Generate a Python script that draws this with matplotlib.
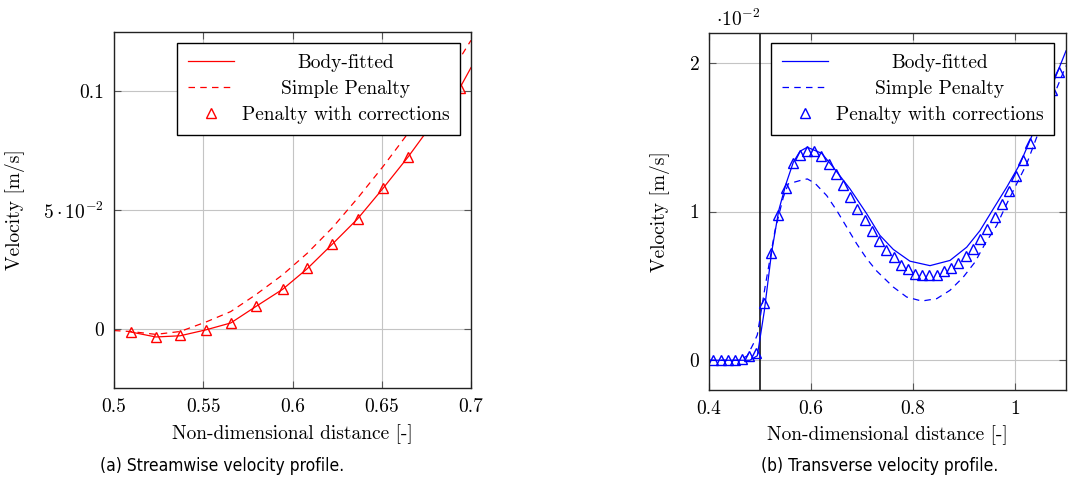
import numpy as np
import matplotlib
matplotlib.use('Agg')
import matplotlib.pyplot as plt

plt.rcParams['font.family'] = 'serif'
plt.rcParams['font.serif'] = ['cmr10', 'DejaVu Serif']
plt.rcParams['mathtext.fontset'] = 'cm'
plt.rcParams['axes.formatter.use_mathtext'] = True

# ---- (a) streamwise velocity, values in m/s
a_fit_x = [0.5094, 0.5234, 0.5370, 0.5515, 0.5654, 0.5796, 0.5945, 0.6083,
           0.6223, 0.6365, 0.6509, 0.6649, 0.6790, 0.6938, 0.7000]
a_fit_y = [-0.0014, -0.0035, -0.0030, -0.0005, 0.0024, 0.0094, 0.0166, 0.0253,
           0.0356, 0.0463, 0.0593, 0.0725, 0.0870, 0.1015, 0.1100]

a_pen_x = [0.5000, 0.5094, 0.5234, 0.5370, 0.5515, 0.5654, 0.5796, 0.5945,
           0.6083, 0.6223, 0.6365, 0.6509, 0.6649, 0.6790, 0.6938, 0.7000]
a_pen_y = [-0.0008, -0.0012, -0.0024, -0.0012, 0.0028, 0.0072, 0.0144, 0.0227,
           0.0318, 0.0425, 0.0550, 0.0685, 0.0825, 0.0975, 0.1140, 0.1215]

a_cor_x = [0.5094, 0.5234, 0.5370, 0.5515, 0.5654, 0.5796, 0.5945, 0.6083,
           0.6223, 0.6365, 0.6509, 0.6649, 0.6790, 0.6938]
a_cor_y = [-0.0014, -0.0035, -0.0028, -0.0004, 0.0024, 0.0095, 0.0167, 0.0254,
           0.0356, 0.0463, 0.0593, 0.0725, 0.0870, 0.1015]

# ---- (b) transverse velocity, values in 1e-2 m/s (as read on the axis)
b_fit_x = [0.400, 0.480, 0.4947, 0.5084, 0.5225, 0.5367, 0.551, 0.5653, 0.5784,
           0.5927, 0.621, 0.6437, 0.6765, 0.7092, 0.735, 0.7614, 0.794,
           0.8333, 0.8725, 0.9053, 0.9314, 0.9575, 0.9837, 1.0098, 1.0327, 1.100]
b_fit_y = [0.0, 0.0, 0.03, 0.33, 0.72, 1.007, 1.186, 1.331, 1.405,
           1.432, 1.391, 1.297, 1.152, 0.985, 0.840, 0.745, 0.666,
           0.636, 0.671, 0.760, 0.872, 1.018, 1.163, 1.320, 1.505, 2.080]

b_pen_x = [0.400, 0.460, 0.475, 0.4869, 0.4947, 0.5014, 0.5098, 0.5294, 0.5457,
           0.5555, 0.5784, 0.5927, 0.6078, 0.6308, 0.6504, 0.670, 0.6896, 0.7092,
           0.7288, 0.7614, 0.7876, 0.8171, 0.8465, 0.8725, 0.8986, 0.9216, 0.9412,
           0.9641, 0.9837, 1.0033, 1.0229, 1.0425, 1.100]
b_pen_y = [0.0, 0.0, 0.03, 0.11, 0.17, 0.31, 0.49, 0.872, 1.096,
           1.186, 1.208, 1.219, 1.190, 1.107, 1.007, 0.895, 0.783, 0.683,
           0.600, 0.492, 0.425, 0.398, 0.414, 0.470, 0.559, 0.660, 0.783,
           0.906, 1.051, 1.186, 1.320, 1.499, 1.980]

b_cor_x = [0.408, 0.423, 0.437, 0.451, 0.465, 0.479, 0.493, 0.507, 0.522, 0.536,
           0.550, 0.564, 0.578, 0.592, 0.606, 0.620, 0.635, 0.649, 0.663, 0.677,
           0.691, 0.705, 0.719, 0.734, 0.748, 0.762, 0.776, 0.790, 0.804, 0.818,
           0.832, 0.847, 0.861, 0.875, 0.889, 0.903, 0.917, 0.931, 0.945, 0.960,
           0.974, 0.988, 1.002, 1.016, 1.030, 1.044, 1.059, 1.073, 1.087]
b_cor_y = [0.0, 0.0, 0.0, 0.0, 0.01, 0.03, 0.05, 0.385, 0.72, 0.975,
           1.155, 1.327, 1.378, 1.405, 1.405, 1.37, 1.32, 1.25, 1.176, 1.098,
           1.018, 0.944, 0.872, 0.805, 0.743, 0.693, 0.642, 0.612, 0.582, 0.575,
           0.575, 0.575, 0.597, 0.62, 0.653, 0.70, 0.749, 0.817, 0.884, 0.966,
           1.051, 1.141, 1.242, 1.347, 1.458, 1.57, 1.69, 1.815, 1.94]

labels = ['Body-fitted', 'Simple Penalty', 'Penalty with corrections']

a_xticks = [0.5, 0.55, 0.6, 0.65, 0.7]
a_xticklabels = ['0.5', '0.55', '0.6', '0.65', '0.7']
a_yticks = [0, 0.05, 0.1]
a_yticklabels = ['0', r'$5\cdot10^{-2}$', '0.1']
b_xticks = [0.4, 0.6, 0.8, 1.0]
b_xticklabels = ['0.4', '0.6', '0.8', '1']
b_yticks = [0, 1, 2]
b_yticklabels = ['0', '1', '2']

fs = 14
dash = (0, (5.2, 4.2))

fig = plt.figure(figsize=(10.68, 4.82), dpi=100)
ax1 = fig.add_axes([114 / 1068, 1 - 388 / 482, 357 / 1068, 356 / 482])
ax2 = fig.add_axes([709 / 1068, 1 - 390 / 482, 357 / 1068, 357 / 482])


def style_axes(ax, xt, xtl, yt, ytl):
    ax.set_xticks(xt)
    ax.set_xticklabels(xtl)
    ax.set_yticks(yt)
    ax.set_yticklabels(ytl)
    ax.set_axisbelow(True)
    ax.grid(True, color='#c4c4c4', linewidth=0.8)
    ax.tick_params(direction='in', length=5, width=0.8, color='#555555',
                   top=True, right=True, labelsize=fs, pad=7)
    for s in ax.spines.values():
        s.set_linewidth(1.0)
        s.set_color('#222222')


# left panel
ax1.plot(a_fit_x, a_fit_y, color='#ff0000', lw=0.9, label=labels[0])
ax1.plot(a_pen_x, a_pen_y, color='#ff0000', lw=0.9, linestyle=dash, label=labels[1])
ax1.plot(a_cor_x, a_cor_y, linestyle='none', marker='^', ms=7, mfc='none',
         mec='#ff0000', mew=1.0, label=labels[2])
ax1.set_xlim(0.5, 0.7)
ax1.set_ylim(-0.025, 0.125)
style_axes(ax1, a_xticks, a_xticklabels, a_yticks, a_yticklabels)
ax1.set_xlabel('Non-dimensional distance [-]', fontsize=fs)
ax1.set_ylabel('Velocity [m/s]', fontsize=fs)
ax1.xaxis.set_label_coords(0.5, -0.103)
ax1.yaxis.set_label_coords(-0.25, 0.5)

# right panel
ax2.axvline(0.5, color='k', lw=1.1)
ax2.plot(b_fit_x, b_fit_y, color='#0000ff', lw=0.9, label=labels[0])
ax2.plot(b_pen_x, b_pen_y, color='#0000ff', lw=0.9, linestyle=dash, label=labels[1])
ax2.plot(b_cor_x, b_cor_y, linestyle='none', marker='^', ms=7, mfc='none',
         mec='#0000ff', mew=1.0, label=labels[2])
ax2.set_xlim(0.4, 1.1)
ax2.set_ylim(-0.2, 2.2)
style_axes(ax2, b_xticks, b_xticklabels, b_yticks, b_yticklabels)
ax2.set_xlabel('Non-dimensional distance [-]', fontsize=fs)
ax2.set_ylabel('Velocity [m/s]', fontsize=fs)
ax2.xaxis.set_label_coords(0.5, -0.098)
ax2.yaxis.set_label_coords(-0.11, 0.5)
ax2.text(0.02, 1.008, r'$\cdot10^{-2}$', transform=ax2.transAxes, fontsize=fs,
         ha='left', va='bottom')

legends = []
for ax, anchor in [(ax1, (0.969, 0.969)), (ax2, (0.966, 0.972))]:
    leg = ax.legend(loc='upper right', bbox_to_anchor=anchor, borderaxespad=0,
                    fontsize=fs, fancybox=False, framealpha=1, edgecolor='k',
                    handlelength=2.35, handletextpad=0.4, labelspacing=0.42,
                    borderpad=0.55)
    leg.get_frame().set_linewidth(1.0)
    legends.append(leg)

# center the legend texts like pgfplots does
fig.canvas.draw()
r = fig.canvas.get_renderer()
for leg in legends:
    texts = leg.get_texts()
    widths = [t.get_window_extent(r).width for t in texts]
    wmax = max(widths)
    for t, w in zip(texts, widths):
        t.set_x((wmax - w) / 2)

fig.text(222 / 1068, 1 - 466 / 482, '(a) Streamwise velocity profile.',
         ha='center', va='center', fontsize=12.5, family='DejaVu Sans',
         stretch='condensed')
fig.text(880 / 1068, 1 - 466 / 482, '(b) Transverse velocity profile.',
         ha='center', va='center', fontsize=12.5, family='DejaVu Sans',
         stretch='condensed')

fig.savefig('out.png', dpi=100)
